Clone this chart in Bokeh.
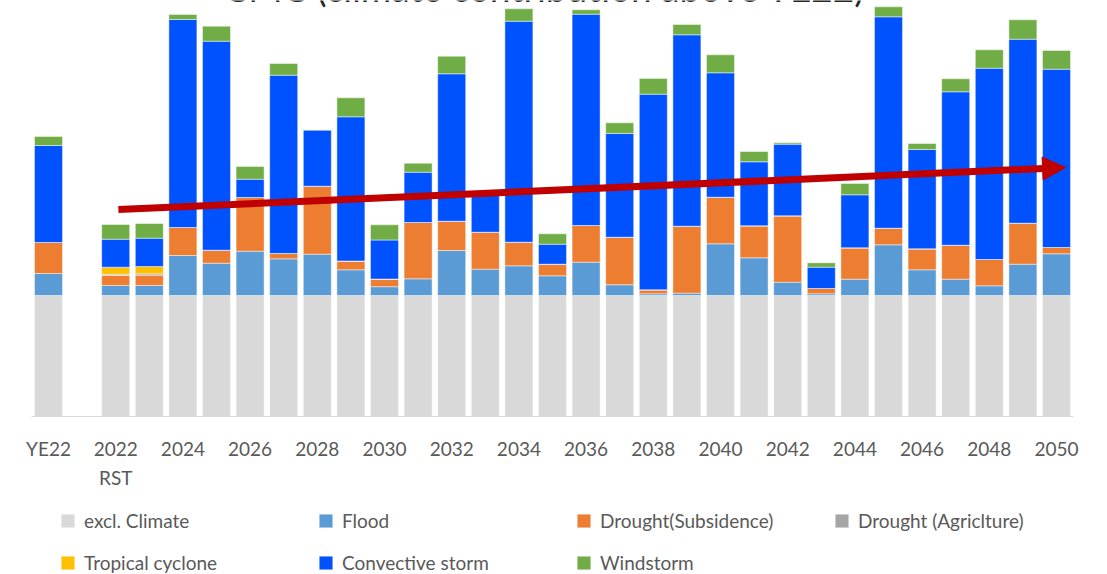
from bokeh.plotting import figure
from bokeh.models import (ColumnDataSource, Range1d, FixedTicker, Legend, LegendItem,
                          Label, Arrow, NormalHead)
from bokeh.embed import file_html
from bokeh.resources import INLINE

# ---------------- data ----------------
categories = ["YE22", "2022 RST", "2023", "2024", "2025", "2026", "2027", "2028", "2029",
              "2030", "2031", "2032", "2033", "2034", "2035", "2036", "2037", "2038",
              "2039", "2040", "2041", "2042", "2043", "2044", "2045", "2046", "2047",
              "2048", "2049", "2050"]
# slot of each bar on the category axis (one empty slot after YE22)
slots = [0] + list(range(2, 31))

excl_climate = [121] * 30
flood = [22, 10, 10, 40, 32.3, 44.3, 36.7, 41.3, 25.7, 8.8, 16.7, 45, 26.3, 29.7, 19.7,
         33.3, 10.7, 1.7, 2.3, 51.7, 37.7, 13.3, 1.7, 16.3, 50.7, 25.7, 16.3, 9.7, 31.3, 41.7]
drought_sub = [31, 10, 10.3, 28, 13, 53.7, 5.3, 68, 8.8, 7.7, 56.3, 29.3, 37, 23.6, 11.6,
               36.7, 47.6, 4, 67, 46.6, 32, 66.4, 5.3, 31.4, 16.6, 21, 34, 26.3, 41, 6.3]
drought_agri = [0, 1.3, 1.4] + [0] * 27
tropical = [0, 7, 7.3] + [0] * 27
convective = [97, 28, 28.3, 208, 209, 18.3, 178.3, 56.2, 144.2, 39, 50.3, 147.4, 38.7, 221,
              20, 211.3, 103.7, 195.6, 191.4, 124.4, 64, 71.6, 21.3, 53, 211.4, 99.3, 153.4,
              191.3, 184, 178.3]
windstorm = [9, 14.7, 14.7, 5, 15, 12.7, 11.7, 0, 19, 15.2, 9, 17.6, 0, 12.4, 10.4, 4.4,
             10.7, 15.7, 10.3, 18, 10.3, 1.4, 4.4, 11.3, 10, 6, 13, 18.4, 19.4, 18.7]

tick_slots = list(range(0, 31, 2))
tick_labels = ["YE22", "2022", "2024", "2026", "2028", "2030", "2032", "2034", "2036",
               "2038", "2040", "2042", "2044", "2046", "2048", "2050"]
sub_label = "RST"  # second line under the 2022 tick

series_names = ["excl. Climate", "Flood", "Drought(Subsidence)", "Drought (Agriclture)",
                "Tropical cyclone", "Convective storm", "Windstorm"]
series_keys = ["grey", "flood", "dsub", "dagri", "tc", "conv", "wind"]
colors = ["#D9D9D9", "#5B9BD5", "#ED7D31", "#A5A5A5", "#FFC000", "#0052FF", "#70AD47"]

# trend arrow (start / end in slot & value units)
arrow_start = (2.08, 207)
arrow_end = (30.27, 249)

title_text = "CMC (climate contribution above YE22)"

# ---------------- figure ----------------
source = ColumnDataSource(dict(x=slots, cat=categories, grey=excl_climate, flood=flood,
                               dsub=drought_sub, dagri=drought_agri, tc=tropical,
                               conv=convective, wind=windstorm))

SLOT_PX = 33.6
p = figure(width=1107, height=574, output_backend="svg", toolbar_location=None,
           x_range=Range1d(-48 / SLOT_PX, (1107 - 48) / SLOT_PX), y_range=Range1d(-158, 416),
           y_axis_location=None, min_border_left=0, min_border_right=0,
           min_border_top=0, min_border_bottom=0)
p.outline_line_color = None
p.xgrid.visible = False
p.ygrid.visible = False
p.background_fill_color = "white"
p.border_fill_color = "white"

# title sits behind the bars, mostly above the top edge as in the reference
p.add_layout(Label(x=544, y=429, x_units="screen", text=title_text, level="underlay",
                   text_align="center", text_baseline="alphabetic", text_font="Lato",
                   text_font_size="37px", text_color="#262626"))

renderers = p.vbar_stack(series_keys, x="x", width=0.833, source=source, color=colors,
                         line_color="white", line_alpha=0.45, line_width=1)

ax = p.xaxis[0]
ax.fixed_location = 0
ax.bounds = (-0.5, 30.5)
ax.ticker = FixedTicker(ticks=tick_slots)
ax.major_label_overrides = {s: l for s, l in zip(tick_slots, tick_labels)}
ax.major_tick_line_color = None
ax.minor_tick_line_color = None
ax.axis_line_color = "#D9D9D9"
ax.axis_line_width = 1
ax.major_label_standoff = 14
ax.major_label_text_font = "Lato"
ax.major_label_text_font_size = "19px"
ax.major_label_text_color = "#595959"

p.add_layout(Label(x=tick_slots[1], y=-61, text=sub_label, text_align="center",
                   text_baseline="middle", text_font="Lato", text_font_size="19px",
                   text_color="#595959"))

p.add_layout(Arrow(x_start=arrow_start[0], y_start=arrow_start[1],
                   x_end=arrow_end[0], y_end=arrow_end[1],
                   line_color="#C00000", line_width=7,
                   end=NormalHead(size=23, fill_color="#C00000", line_color="#C00000",
                                  line_width=1)))

items = [LegendItem(label=n, renderers=[r]) for n, r in zip(series_names, renderers)]
legend = Legend(items=items, location=(59, 0), orientation="horizontal", ncols=4,
                glyph_width=17, glyph_height=17, label_standoff=8, label_height=24,
                label_width=215, spacing=18, padding=0, margin=0,
                border_line_color=None, background_fill_alpha=0,
                label_text_font="Lato", label_text_font_size="19px",
                label_text_color="#595959")
p.add_layout(legend, "center")

open("out.html", "w").write(file_html(p, INLINE))
